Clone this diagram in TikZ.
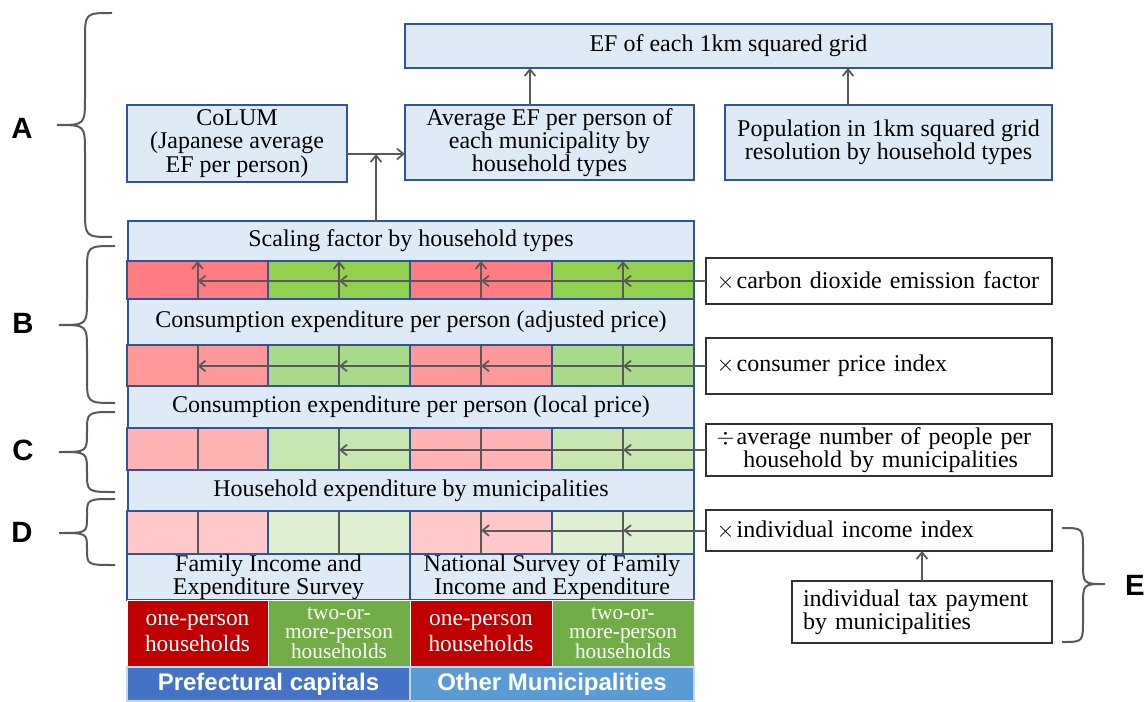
\documentclass[tikz,border=0pt]{standalone}
\usepackage{fontspec}
\setmainfont{Liberation Serif}
\setsansfont{Liberation Sans}
\usetikzlibrary{arrows.meta}
\definecolor{boxblue}{HTML}{DEEBF7}
\definecolor{boxedge}{HTML}{2F5597}
\definecolor{agray}{HTML}{595959}
\definecolor{redA}{HTML}{FF7C80}
\definecolor{grnA}{HTML}{92D050}
\definecolor{redB}{HTML}{FF9999}
\definecolor{grnB}{HTML}{A9D98A}
\definecolor{redC}{HTML}{FFB3B5}
\definecolor{grnC}{HTML}{C8E6B0}
\definecolor{redD}{HTML}{FFC9CB}
\definecolor{grnD}{HTML}{E0F0D3}
\definecolor{dred}{HTML}{C00000}
\definecolor{dgrn}{HTML}{70AD47}
\definecolor{blueA}{HTML}{4472C4}
\definecolor{blueB}{HTML}{5B9BD5}
\newcommand\mainfs{\fontsize{18}{18}\selectfont\hyphenpenalty=10000 }
% box by corners (pixel coordinates)
\newcommand\bx[7][]{\node[#1, minimum width={(#5-#3)*0.75pt}, minimum height={(#6-#4)*0.75pt}] (#2) at ({(#3+#5)/2},{(#4+#6)/2}) {#7};}
% left brace: xend xspine xtip ytop ytip ybot radius
\newcommand\lbr[7]{\draw[brc] (#1,#4) .. controls (#2,#4) .. (#2,{#4+#7}) -- (#2,{#5-#7}) .. controls (#2,#5) .. (#3,#5) .. controls (#2,#5) .. (#2,{#5+#7}) -- (#2,{#6-#7}) .. controls (#2,#6) .. (#1,#6);}
\begin{document}
\begin{tikzpicture}[x=0.75pt,y=-0.75pt,
  every node/.style={inner sep=0pt, outer sep=0pt},
  bbox/.style={draw=boxedge, fill=boxblue, line width=1.3pt, align=center, font=\mainfs},
  cellbox/.style={draw=boxedge, line width=0.9pt},
  rbox/.style={draw=black!80, fill=white, line width=1pt, align=left, font=\mainfs, anchor=west, inner xsep=8pt, text width=243.5pt},
  arr/.style={draw=agray, line width=1.5pt, -{Straight Barb[length=5pt,width=8pt,line width=1.3pt]}},
  gline/.style={draw=agray, line width=1.5pt},
  brc/.style={draw=agray, line width=1.5pt},
  lab/.style={font=\sffamily\bfseries\fontsize{22}{22}\selectfont},
  hcell/.style={text=white, align=center, draw=white, line width=0.5pt},
  bcell/.style={text=white, align=center, font=\sffamily\bfseries\fontsize{18}{18}\selectfont, draw=white!70!blueA, line width=0.8pt},
  ]
\fill[white] (0,0) rectangle (1148,702);
\useasboundingbox (0,0) rectangle (1148,702);

% ---- coloured rows ----
\bx[cellbox, fill=redA]{g11}{127}{261}{268}{299}{}
\bx[cellbox, fill=grnA]{g12}{268}{261}{410}{299}{}
\bx[cellbox, fill=redA]{g13}{410}{261}{552}{299}{}
\bx[cellbox, fill=grnA]{g14}{552}{261}{694}{299}{}

\bx[cellbox, fill=redB]{g21}{127}{345}{268}{386}{}
\bx[cellbox, fill=grnB]{g22}{268}{345}{410}{386}{}
\bx[cellbox, fill=redB]{g23}{410}{345}{552}{386}{}
\bx[cellbox, fill=grnB]{g24}{552}{345}{694}{386}{}

\bx[cellbox, fill=redC]{g31}{127}{428}{268}{470}{}
\bx[cellbox, fill=grnC]{g32}{268}{428}{410}{470}{}
\bx[cellbox, fill=redC]{g33}{410}{428}{552}{470}{}
\bx[cellbox, fill=grnC]{g34}{552}{428}{694}{470}{}

\bx[cellbox, fill=redD]{g41}{127}{511}{268}{554}{}
\bx[cellbox, fill=grnD]{g42}{268}{511}{410}{554}{}
\bx[cellbox, fill=redD]{g43}{410}{511}{552}{554}{}
\bx[cellbox, fill=grnD]{g44}{552}{511}{694}{554}{}

\foreach \g in {g21,g22,g23,g24,g31,g32,g33,g34,g41,g42,g43,g44}
  \draw[gline] (\g.south) -- (\g.north);

% ---- blue boxes ----
\bx[bbox]{ef}{405}{24}{1052}{68}{EF of each 1km squared grid}
\bx[bbox, font=\fontsize{18}{17.6}\selectfont]{colum}{127}{105}{347}{182}{CoLUM\\(Japanese average\\EF per person)}
\bx[bbox, font=\fontsize{18}{16.2}\selectfont]{avg}{405}{105}{694}{180}{Average EF per person of\\each municipality by\\household types}
\bx[bbox, font=\fontsize{18}{16.3}\selectfont]{pop}{725}{105}{1052}{180}{Population in 1km squared grid\\resolution by household types}
\bx[bbox]{scale}{128}{221}{694}{261}{Scaling factor by household types}
\bx[bbox]{cadj}{128}{299}{694}{345}{Consumption expenditure per person (adjusted price)}
\bx[bbox]{cloc}{128}{386}{694}{428}{Consumption expenditure per person (local price)}
\bx[bbox]{hh}{128}{470}{694}{511}{Household expenditure by municipalities}
\bx[bbox, font=\fontsize{18}{15}\selectfont]{fam}{127}{554}{410}{600}{Family Income and\\Expenditure Survey}
\bx[bbox, font=\fontsize{18}{15}\selectfont]{nat}{410}{554}{694}{600}{National Survey of Family\\Income and Expenditure}

% ---- household cells ----
\bx[hcell, fill=dred, font=\fontsize{17.5}{19.5}\selectfont]{h1}{127}{600}{268}{666}{one-person\\households}
\bx[hcell, fill=dgrn, font=\fontsize{16}{14.6}\selectfont]{h2}{268}{600}{410}{666}{two-or-\\more-person\\households}
\bx[hcell, fill=dred, font=\fontsize{17.5}{19.5}\selectfont]{h3}{410}{600}{552}{666}{one-person\\households}
\bx[hcell, fill=dgrn, font=\fontsize{16}{14.6}\selectfont]{h4}{552}{600}{694}{666}{two-or-\\more-person\\households}
\bx[bcell, fill=blueA]{pc}{127}{667}{410}{701}{Prefectural capitals}
\bx[bcell, fill=blueB]{om}{410}{667}{694}{701}{Other Municipalities}

% ---- right boxes ----
\node[rbox, minimum height=34.5pt] (co2) at (706,281) {$\times$\hspace{1.5pt}carbon dioxide emission factor};
\node[rbox, minimum height=42pt] (cpi) at (706,366) {$\times$\hspace{1.5pt}consumer price index};
\node[rbox, minimum height=39pt, font=\fontsize{18}{17}\selectfont] (anp) at (706,450) {$\div$\hspace{1.5pt}average number of people per\\\hspace*{20pt}household by municipalities};
\node[rbox, minimum height=30.75pt] (inc) at (706,530.5) {$\times$\hspace{1.5pt}individual income index};
\node[rbox, minimum height=46.5pt, inner xsep=8.25pt, text width=178.5pt, font=\fontsize{18}{14.5}\selectfont] (tax) at (792,612) {individual tax payment\\by municipalities};

% ---- connectors ----
\coordinate (j) at (376,154);
\draw[arr] (colum.east |- j) -- (avg.west |- j);
\draw[arr] (scale.north -| j) -- (j);
\coordinate (t1) at (530,0);
\coordinate (t2) at (848,0);
\coordinate (t3) at (922,0);
\draw[arr] (avg.north -| t1) -- (ef.south -| t1);
\draw[arr] (pop.north -| t2) -- (ef.south -| t2);
\draw[arr] (tax.north -| t3) -- (inc.south -| t3);

\foreach \g in {g11,g12,g13,g14}{
  \draw[arr] (\g.south) -- (\g.north);
  \draw[arr] (co2.west) -- (co2.west -| \g.center);
}
\foreach \g in {g21,g22,g23,g24}
  \draw[arr] (cpi.west) -- (cpi.west -| \g.center);
\foreach \g in {g32,g34}
  \draw[arr] (anp.west) -- (anp.west -| \g.center);
\foreach \g in {g43,g44}
  \draw[arr] (inc.west) -- (inc.west -| \g.center);

% ---- braces and labels ----
\lbr{112}{85}{57}{13}{125}{237}{28}
\lbr{115}{87}{59}{246}{325}{403}{26}
\lbr{115}{87}{59}{412}{452}{492}{20}
\lbr{115}{87}{59}{499}{533}{565}{16}
\lbr{1062}{1083}{1105}{528}{584}{642}{22}
\node[lab] (la) at (22,128) {A};
\node[lab] (lb) at (23,323) {B};
\node[lab] (lc) at (23,450) {C};
\node[lab] (ld) at (22,532) {D};
\node[lab] (le) at (1135,585) {E};
\end{tikzpicture}
\end{document}
